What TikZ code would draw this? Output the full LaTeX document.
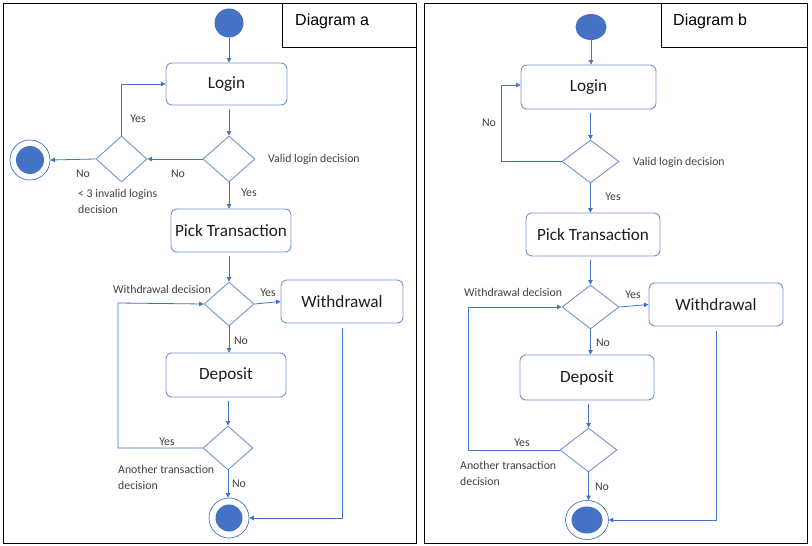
\documentclass[tikz,border=0pt]{standalone}
\usepackage{fontspec}
\setmainfont{Carlito}
\newfontfamily\arialf{Liberation Sans}
\usetikzlibrary{shapes.geometric,arrows.meta}
\definecolor{ublue}{HTML}{4472C4}
\definecolor{bline}{HTML}{7393CF}
\definecolor{lbl}{HTML}{404040}
\definecolor{btxt}{HTML}{1E1E1E}
\tikzset{
  act/.style={draw=bline,line width=0.9pt,rounded corners=6pt,align=center,text=btxt,font=\fontsize{17.2}{19}\selectfont,inner sep=0pt},
  dec/.style={draw=bline,line width=0.9pt,diamond,inner sep=0pt},
  startc/.style={circle,fill=ublue,draw=none,inner sep=0pt},
  endo/.style={circle,draw=ublue,line width=0.7pt,fill=white,inner sep=0pt},
  endi/.style={circle,fill=ublue,draw=none,inner sep=0pt},
  flow/.style={draw=ublue,line width=0.8pt,-{Triangle[length=4.5pt,width=4.5pt]}},
  lab/.style={text=lbl,font=\fontsize{11.8}{16}\selectfont,inner sep=0pt,align=left},
  frame/.style={draw=black,line width=1pt},
  ttl/.style={font=\arialf\fontsize{16}{18}\selectfont,inner sep=0pt,anchor=west}
}
\begin{document}
\begin{tikzpicture}[x=1pt,y=-1pt]
\useasboundingbox (0,0) rectangle (812,546);
% ===== Panel a =====
\draw[frame] (3,3) rectangle (416,543);
\draw[frame] (282,3) rectangle (416,47);
\node[ttl] (ta) at (295,21) {Diagram a};
\node[startc,minimum size=29pt] (sa) at (229,23) {};
\node[act,minimum width=121pt,minimum height=42pt] (la) at (226.5,84) {Login};
\node[dec,minimum width=52pt,minimum height=46pt] (va) at (229,159) {};
\node[dec,minimum width=51pt,minimum height=46pt] (ia) at (121.5,159) {};
\node[endo,minimum size=40pt] (ea1) at (30,160) {};
\node[endi,minimum size=28pt] (ea1i) at (30,160) {};
\node[act,minimum width=120pt,minimum height=43pt] (pa) at (231,230.5) {Pick Transaction};
\node[dec,minimum width=50pt,minimum height=44pt] (wda) at (229,304) {};
\node[act,minimum width=122pt,minimum height=43pt] (wba) at (342,301.5) {Withdrawal};
\node[act,minimum width=120pt,minimum height=44pt] (da) at (226,375) {Deposit};
\node[dec,minimum width=50pt,minimum height=44pt] (aa) at (228,448) {};
\node[endo,minimum size=40pt] (ea2) at (229,518) {};
\node[endi,minimum size=27pt] (ea2i) at (229,518) {};
\coordinate (ca1) at (118,448);
\coordinate (ca2) at (118,303);

\draw[flow] (sa.south) -- (sa.south |- la.north);
\draw[flow,shorten <=4pt] (va.north |- la.south) -- (va.north);
\draw[flow] (va.west) -- (ia.east);
\draw[flow] (ia.north) |- (la.west);
\draw[flow] (ia.west) -- (ea1.east);
\draw[flow] (va.south) -- (va.south |- pa.north);
\draw[flow,shorten <=4pt] (wda.north |- pa.south) -- (wda.north);
\draw[flow] (wda.east) -- (wba.west);
\draw[flow,shorten <=5pt] (wba.south) |- (ea2.east);
\draw[flow] (wda.south) -- (wda.south |- da.north);
\draw[flow,shorten <=4pt] (aa.north |- da.south) -- (aa.north);
\draw[flow] (aa.west) -- (ca1) -- (ca2) -- (wda.west);
\draw[flow] (aa.south) -- (aa.south |- ea2.north);

\node[lab,anchor=west] (l1) at (268,159) {Valid login decision};
\node[lab] (l2) at (178,174) {No};
\node[lab] (l3) at (83,174) {No};
\node[lab] (l4) at (138,119) {Yes};
\node[lab,anchor=north west] (l5) at (78,189) {< 3 invalid logins\\decision};
\node[lab] (l6) at (249,193) {Yes};
\node[lab,anchor=west] (l7) at (113,289) {Withdrawal decision};
\node[lab] (l8) at (268,293) {Yes};
\node[lab] (l9) at (241,341) {No};
\node[lab] (l10) at (167,442) {Yes};
\node[lab,anchor=north west] (l11) at (118,465) {Another transaction\\decision};
\node[lab] (l12) at (239,484) {No};

% ===== Panel b =====
\draw[frame] (424,3) rectangle (807,543);
\draw[frame] (661,3) rectangle (807,47);
\node[ttl] (tb) at (673,21) {Diagram b};
\node[startc,ellipse,minimum width=31pt,minimum height=26pt] (sb) at (591,27) {};
\node[act,minimum width=135pt,minimum height=44pt] (lb) at (588.5,87) {Login};
\node[dec,minimum width=57pt,minimum height=43pt] (vb) at (590.5,161.5) {};
\node[act,minimum width=134pt,minimum height=43pt] (pb) at (593,234.5) {Pick Transaction};
\node[dec,minimum width=57pt,minimum height=44pt] (wdb) at (590.5,307) {};
\node[act,minimum width=134pt,minimum height=43pt] (wbb) at (716,304.5) {Withdrawal};
\node[act,minimum width=134pt,minimum height=45pt] (db) at (587,377.5) {Deposit};
\node[dec,minimum width=57pt,minimum height=44pt] (ab) at (588.5,450) {};
\node[endo,ellipse,minimum width=43pt,minimum height=39pt] (eb) at (587,520) {};
\node[endi,ellipse,minimum width=31pt,minimum height=27pt] (ebi) at (587,520) {};
\coordinate (cb0) at (501,161.5);
\coordinate (cb1) at (468,450);
\coordinate (cb2) at (468,307);

\draw[flow] (sb.south) -- (sb.south |- lb.north);
\draw[flow,shorten <=4pt] (vb.north |- lb.south) -- (vb.north);
\draw[flow] (vb.west) -- (cb0) |- ([yshift=2pt]lb.west);
\draw[flow] (vb.south) -- (vb.south |- pb.north);
\draw[flow,shorten <=4pt] (wdb.north |- pb.south) -- (wdb.north);
\draw[flow] (wdb.east) -- (wbb.west);
\draw[flow,shorten <=5pt] (wbb.south) |- (eb.east);
\draw[flow] (wdb.south) -- (wdb.south |- db.north);
\draw[flow,shorten <=4pt] (ab.north |- db.south) -- (ab.north);
\draw[flow] (ab.west) -- (cb1) -- (cb2) -- (wdb.west);
\draw[flow] (ab.south) -- (ab.south |- eb.north);

\node[lab] (m1) at (489,123) {No};
\node[lab,anchor=west] (m2) at (633,162) {Valid login decision};
\node[lab] (m3) at (613,197) {Yes};
\node[lab,anchor=west] (m4) at (464,292) {Withdrawal decision};
\node[lab] (m5) at (633,295) {Yes};
\node[lab] (m6) at (603,343) {No};
\node[lab] (m7) at (522,443) {Yes};
\node[lab,anchor=north west] (m8) at (460,461) {Another transaction\\decision};
\node[lab] (m9) at (602,487) {No};
\end{tikzpicture}
\end{document}
